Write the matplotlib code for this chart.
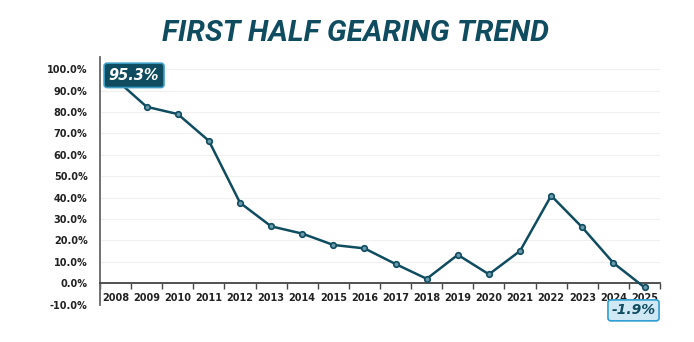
import numpy as np
import matplotlib
matplotlib.use('Agg')
import matplotlib.pyplot as plt
import matplotlib.ticker as mtick

# first half gearing, percent
years = ['2008', '2009', '2010', '2011', '2012', '2013', '2014', '2015', '2016',
         '2017', '2018', '2019', '2020', '2021', '2022', '2023', '2024', '2025']
gearing = [95.3, 82.4, 79.0, 66.5, 37.6, 26.6, 23.2, 17.9, 16.3,
           9.0, 2.1, 13.3, 4.2, 15.1, 40.9, 26.1, 9.5, -1.9]
y_ticks = [-10, 0, 10, 20, 30, 40, 50, 60, 70, 80, 90, 100]

TEAL = '#0f4c5f'
plt.rcParams['font.weight'] = 'bold'

fig = plt.figure(figsize=(6.94, 3.42), dpi=100)
ax = fig.add_axes([0.1441, 0.109, 0.807, 0.724])

x = np.arange(len(years))
ax.plot(x, gearing, color=TEAL, lw=1.8, marker='o', ms=4.0,
        mfc='#6a9aab', mec=TEAL, mew=1.2, zorder=3)

ax.set_xlim(-0.5, len(years) - 0.5)
ax.set_ylim(-10, 105.6)
ax.set_yticks(y_ticks)
ax.yaxis.set_major_formatter(mtick.FuncFormatter(lambda v, p: '{:.1f}%'.format(v)))
ax.set_xticks(x)
ax.set_xticklabels(years)
ax.set_xticks(np.arange(len(years) + 1) - 0.5, minor=True)

ax.tick_params(axis='x', which='major', length=0, pad=7, labelsize=7, labelcolor='#222222')
ax.tick_params(axis='x', which='minor', length=4, width=1, color='#444444', direction='out')
ax.tick_params(axis='y', length=0, pad=9, labelsize=7, labelcolor='#222222')

ax.spines['top'].set_visible(False)
ax.spines['right'].set_visible(False)
ax.spines['bottom'].set_position(('data', 0))
ax.spines['bottom'].set_color('#444444')
ax.spines['bottom'].set_linewidth(1.3)
ax.spines['left'].set_color('#666666')
ax.spines['left'].set_linewidth(1.3)

ax.yaxis.grid(True, color='#f0f0f0', lw=0.8)
ax.set_axisbelow(True)
# no gridline at -10
ax.get_ygridlines()[0].set_visible(False)

# highlight first and last values
ax.annotate('{:.1f}%'.format(gearing[0]), (x[0], gearing[0]), xytext=(18.5, 3.8),
            textcoords='offset pixels', ha='center', va='center',
            fontsize=10.5, fontweight='bold', fontstyle='italic', color='white',
            bbox=dict(boxstyle='round,pad=0.32,rounding_size=0.2', fc=TEAL,
                      ec='#3c9cc4', lw=1.2), zorder=5)
ax.annotate('{:.1f}%'.format(gearing[-1]), (x[-1], gearing[-1]), xytext=(-11, -23),
            textcoords='offset pixels', ha='center', va='center',
            fontsize=10, fontweight='bold', fontstyle='italic', color=TEAL,
            bbox=dict(boxstyle='round,pad=0.25,rounding_size=0.2', fc='#cfe8f4',
                      ec='#2f9fd3', lw=1.2), zorder=5, annotation_clip=False)

fig.text(0.512, 0.904, 'FIRST HALF GEARING TREND', ha='center', va='center',
         fontsize=21.5, fontweight='bold', fontstyle='italic', color=TEAL,
         family='Roboto')

fig.savefig('out.png', dpi=100)
